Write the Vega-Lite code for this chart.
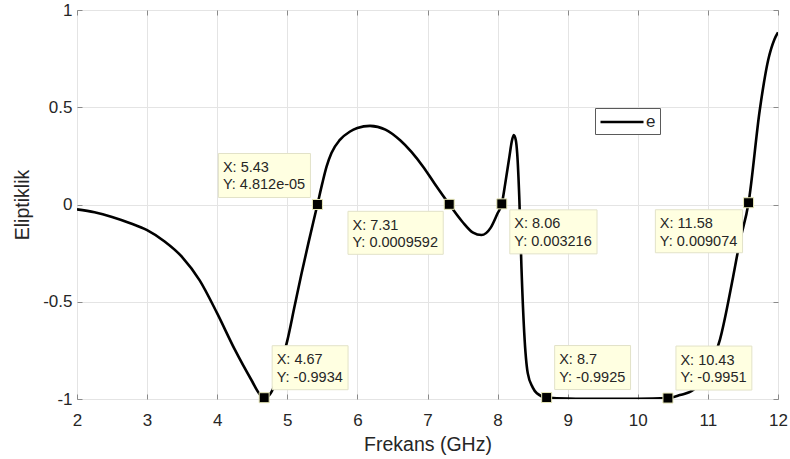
{
  "$schema": "https://vega.github.io/schema/vega-lite/v6.json",
  "width": 701,
  "height": 389,
  "autosize": {"type": "none"},
  "padding": {"left": 77, "top": 10, "right": 12, "bottom": 60},
  "background": "white",
  "config": {
    "view": {"stroke": "#8a8a8a", "strokeWidth": 1},
    "font": "Liberation Sans"
  },
  "datasets": {
    "curve": [
      {"x": 2.0, "y": -0.025}, {"x": 2.25, "y": -0.04}, {"x": 2.5, "y": -0.064}, {"x": 2.75, "y": -0.095},
      {"x": 3.0, "y": -0.132}, {"x": 3.25, "y": -0.19}, {"x": 3.5, "y": -0.27}, {"x": 3.75, "y": -0.39},
      {"x": 4.0, "y": -0.56}, {"x": 4.25, "y": -0.745}, {"x": 4.5, "y": -0.91}, {"x": 4.6, "y": -0.972},
      {"x": 4.67, "y": -0.9934}, {"x": 4.73, "y": -0.985}, {"x": 4.8, "y": -0.945}, {"x": 4.9, "y": -0.83},
      {"x": 5.0, "y": -0.7}, {"x": 5.1, "y": -0.53}, {"x": 5.2, "y": -0.36}, {"x": 5.3, "y": -0.2},
      {"x": 5.43, "y": 0.00004812}, {"x": 5.5, "y": 0.11}, {"x": 5.56, "y": 0.195}, {"x": 5.63, "y": 0.265},
      {"x": 5.75, "y": 0.332}, {"x": 5.89, "y": 0.374}, {"x": 6.0, "y": 0.393},
      {"x": 6.18, "y": 0.404}, {"x": 6.4, "y": 0.385}, {"x": 6.61, "y": 0.33}, {"x": 6.94, "y": 0.193},
      {"x": 7.1, "y": 0.108}, {"x": 7.31, "y": 0.0009592}, {"x": 7.5, "y": -0.09}, {"x": 7.65, "y": -0.145},
      {"x": 7.77, "y": -0.157}, {"x": 7.9, "y": -0.12}, {"x": 8.0, "y": -0.045}, {"x": 8.06, "y": 0.003216},
      {"x": 8.11, "y": 0.11}, {"x": 8.17, "y": 0.25}, {"x": 8.2, "y": 0.32}, {"x": 8.23, "y": 0.357},
      {"x": 8.26, "y": 0.33}, {"x": 8.28, "y": 0.26}, {"x": 8.31, "y": 0.03}, {"x": 8.34, "y": -0.32},
      {"x": 8.38, "y": -0.66}, {"x": 8.43, "y": -0.867}, {"x": 8.5, "y": -0.94}, {"x": 8.56, "y": -0.97},
      {"x": 8.7, "y": -0.9925}, {"x": 9.0, "y": -0.998}, {"x": 9.5, "y": -0.999}, {"x": 10.0, "y": -0.999},
      {"x": 10.43, "y": -0.9951}, {"x": 10.6, "y": -0.98}, {"x": 10.79, "y": -0.954}, {"x": 11.0, "y": -0.85},
      {"x": 11.17, "y": -0.697}, {"x": 11.36, "y": -0.371}, {"x": 11.45, "y": -0.2}, {"x": 11.58, "y": 0.009074},
      {"x": 11.74, "y": 0.486}, {"x": 11.86, "y": 0.743}, {"x": 11.95, "y": 0.85}, {"x": 12.0, "y": 0.885}
    ],
    "tips": [
      {"x": 4.67, "y": -0.9934, "xl": "X: 4.67", "yl": "Y: -0.9934"},
      {"x": 5.43, "y": 0.00004812, "xl": "X: 5.43", "yl": "Y: 4.812e-05"},
      {"x": 7.31, "y": 0.0009592, "xl": "X: 7.31", "yl": "Y: 0.0009592"},
      {"x": 8.06, "y": 0.003216, "xl": "X: 8.06", "yl": "Y: 0.003216"},
      {"x": 8.7, "y": -0.9925, "xl": "X: 8.7", "yl": "Y: -0.9925"},
      {"x": 10.43, "y": -0.9951, "xl": "X: 10.43", "yl": "Y: -0.9951"},
      {"x": 11.58, "y": 0.009074, "xl": "X: 11.58", "yl": "Y: 0.009074"}
    ]
  },
  "layer": [
    {
      "data": {"name": "curve"},
      "mark": {"type": "line", "interpolate": "monotone", "strokeWidth": 2.6, "clip": true},
      "encoding": {
        "x": {
          "field": "x", "type": "quantitative",
          "scale": {"domain": [2, 12], "nice": false, "zero": false},
          "axis": {
            "orient": "bottom", "values": [2, 3, 4, 5, 6, 7, 8, 9, 10, 11, 12],
            "title": "Frekans (GHz)", "grid": true, "gridColor": "#e4e4e4",
            "tickSize": -5, "tickColor": "#8a8a8a", "domain": false,
            "labelPadding": 31, "labelBaseline": "alphabetic", "labelFontSize": 17,
            "labelColor": "#262626", "labelFlush": false,
            "titleFontSize": 19.5, "titleFontWeight": "normal", "titleColor": "#262626",
            "titleY": 51, "titleBaseline": "alphabetic"
          }
        },
        "y": {
          "field": "y", "type": "quantitative",
          "scale": {"domain": [-1, 1], "nice": false, "zero": false},
          "axis": {
            "orient": "left", "values": [-1, -0.5, 0, 0.5, 1],
            "labelExpr": "'' + datum.value",
            "title": "Eliptiklik", "grid": true, "gridColor": "#e4e4e4",
            "tickSize": -5, "tickColor": "#8a8a8a", "domain": false,
            "labelPadding": 10, "labelFontSize": 17, "labelColor": "#262626",
            "labelFlush": false, "labelBaseline": "middle",
            "titleFontSize": 19.5, "titleFontWeight": "normal", "titleColor": "#262626",
            "titleX": -49, "titleY": 194.5, "titleBaseline": "alphabetic"
          }
        },
        "color": {
          "datum": "e", "type": "nominal",
          "scale": {"range": ["#000000"]},
          "legend": {
            "orient": "none", "legendX": 518, "legendY": 98, "title": null,
            "symbolType": "M-1,0H4.06", "symbolSize": 289, "symbolStrokeWidth": 2.6,
            "symbolStrokeColor": "#000000", "symbolFillColor": "transparent",
            "labelFontSize": 17, "labelColor": "#262626", "labelOffset": 27,
            "padding": 4, "strokeColor": "#5a5a5a", "fillColor": "white"
          }
        }
      }
    },
    {
      "data": {"name": "tips"},
      "mark": {"type": "square", "size": 100, "filled": true, "fill": "#000000", "stroke": "#e8e8b8", "strokeWidth": 1, "opacity": 1},
      "encoding": {
        "x": {
          "field": "x", "type": "quantitative",
          "axis": {"orient": "top", "values": [2, 3, 4, 5, 6, 7, 8, 9, 10, 11, 12], "labels": false, "title": null, "grid": false, "domain": false, "tickSize": -5, "tickColor": "#8a8a8a"}
        },
        "y": {
          "field": "y", "type": "quantitative",
          "axis": {"orient": "right", "values": [-1, -0.5, 0, 0.5, 1], "labels": false, "title": null, "grid": false, "domain": false, "tickSize": -5, "tickColor": "#8a8a8a"}
        }
      }
    },
    {
      "data": {"name": "tips"},
      "transform": [
        {"filter": "datum.x == 4.67 || datum.x == 8.7 || datum.x == 10.43"},
        {"calculate": "14.5 * (0.556 * length(datum.yl) - 0.278 * (length(datum.yl) - length(replace(datum.yl, /[.: ]/g, ''))) - 0.223 * (length(datum.yl) - length(replace(datum.yl, /-/g, ''))) + 0.111) + 9", "as": "bw"},
        {"calculate": "[datum.xl, datum.yl]", "as": "lines"}
      ],
      "layer": [
        {
          "mark": {"type": "rect", "fill": "#ffffe1", "stroke": "#e2e2c8", "strokeWidth": 1, "xOffset": 8, "x2Offset": {"expr": "8 + datum.bw"}, "yOffset": -52, "y2Offset": -8},
          "encoding": {
            "x": {"field": "x", "type": "quantitative", "axis": null},
            "x2": {"field": "x"},
            "y": {"field": "y", "type": "quantitative", "axis": null},
            "y2": {"field": "y"}
          }
        },
        {
          "mark": {"type": "text", "align": "left", "baseline": "alphabetic", "fontSize": 14.5, "lineHeight": 17.5, "color": "#262626", "dx": 12.5, "dy": -33.5},
          "encoding": {
            "x": {"field": "x", "type": "quantitative", "axis": null},
            "y": {"field": "y", "type": "quantitative", "axis": null},
            "text": {"field": "lines"}
          }
        }
      ]
    },
    {
      "data": {"name": "tips"},
      "transform": [
        {"filter": "datum.x == 8.06"},
        {"calculate": "14.5 * (0.556 * length(datum.yl) - 0.278 * (length(datum.yl) - length(replace(datum.yl, /[.: ]/g, ''))) - 0.223 * (length(datum.yl) - length(replace(datum.yl, /-/g, ''))) + 0.111) + 9", "as": "bw"},
        {"calculate": "[datum.xl, datum.yl]", "as": "lines"}
      ],
      "layer": [
        {
          "mark": {"type": "rect", "fill": "#ffffe1", "stroke": "#e2e2c8", "strokeWidth": 1, "xOffset": 8, "x2Offset": {"expr": "8 + datum.bw"}, "yOffset": 6, "y2Offset": 50},
          "encoding": {
            "x": {"field": "x", "type": "quantitative", "axis": null},
            "x2": {"field": "x"},
            "y": {"field": "y", "type": "quantitative", "axis": null},
            "y2": {"field": "y"}
          }
        },
        {
          "mark": {"type": "text", "align": "left", "baseline": "alphabetic", "fontSize": 14.5, "lineHeight": 17.5, "color": "#262626", "dx": 12.5, "dy": 24.5},
          "encoding": {
            "x": {"field": "x", "type": "quantitative", "axis": null},
            "y": {"field": "y", "type": "quantitative", "axis": null},
            "text": {"field": "lines"}
          }
        }
      ]
    },
    {
      "data": {"name": "tips"},
      "transform": [
        {"filter": "datum.x == 5.43"},
        {"calculate": "14.5 * (0.556 * length(datum.yl) - 0.278 * (length(datum.yl) - length(replace(datum.yl, /[.: ]/g, ''))) - 0.223 * (length(datum.yl) - length(replace(datum.yl, /-/g, ''))) + 0.111) + 9", "as": "bw"},
        {"calculate": "[datum.xl, datum.yl]", "as": "lines"}
      ],
      "layer": [
        {
          "mark": {"type": "rect", "fill": "#ffffe1", "stroke": "#e2e2c8", "strokeWidth": 1, "xOffset": {"expr": "-7 - datum.bw"}, "x2Offset": -7, "yOffset": -51, "y2Offset": -7},
          "encoding": {
            "x": {"field": "x", "type": "quantitative", "axis": null},
            "x2": {"field": "x"},
            "y": {"field": "y", "type": "quantitative", "axis": null},
            "y2": {"field": "y"}
          }
        },
        {
          "mark": {"type": "text", "align": "left", "baseline": "alphabetic", "fontSize": 14.5, "lineHeight": 17.5, "color": "#262626", "dx": {"expr": "-2.5 - datum.bw"}, "dy": -32.5},
          "encoding": {
            "x": {"field": "x", "type": "quantitative", "axis": null},
            "y": {"field": "y", "type": "quantitative", "axis": null},
            "text": {"field": "lines"}
          }
        }
      ]
    },
    {
      "data": {"name": "tips"},
      "transform": [
        {"filter": "datum.x == 7.31 || datum.x == 11.58"},
        {"calculate": "14.5 * (0.556 * length(datum.yl) - 0.278 * (length(datum.yl) - length(replace(datum.yl, /[.: ]/g, ''))) - 0.223 * (length(datum.yl) - length(replace(datum.yl, /-/g, ''))) + 0.111) + 9", "as": "bw"},
        {"calculate": "[datum.xl, datum.yl]", "as": "lines"}
      ],
      "layer": [
        {
          "mark": {"type": "rect", "fill": "#ffffe1", "stroke": "#e2e2c8", "strokeWidth": 1, "xOffset": {"expr": "-6 - datum.bw"}, "x2Offset": -6, "yOffset": 7, "y2Offset": 50},
          "encoding": {
            "x": {"field": "x", "type": "quantitative", "axis": null},
            "x2": {"field": "x"},
            "y": {"field": "y", "type": "quantitative", "axis": null},
            "y2": {"field": "y"}
          }
        },
        {
          "mark": {"type": "text", "align": "left", "baseline": "alphabetic", "fontSize": 14.5, "lineHeight": 17.5, "color": "#262626", "dx": {"expr": "-1.5 - datum.bw"}, "dy": 25.5},
          "encoding": {
            "x": {"field": "x", "type": "quantitative", "axis": null},
            "y": {"field": "y", "type": "quantitative", "axis": null},
            "text": {"field": "lines"}
          }
        }
      ]
    }
  ],
  "resolve": {"axis": {"x": "independent", "y": "independent"}}
}
